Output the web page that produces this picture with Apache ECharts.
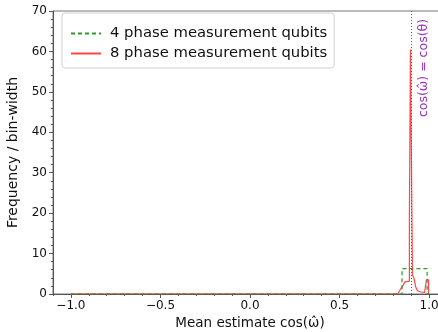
<!DOCTYPE html>
<html>
<head>
<meta charset="utf-8">
<script src="https://cdn.jsdelivr.net/npm/echarts@6/dist/echarts.min.js"></script>
<style>
  html, body { margin: 0; padding: 0; background: #fff; }
  #chart { width: 438px; height: 332px; }
</style>
</head>
<body>
<div id="chart"></div>
<script>
// histogram bin edges and heights (frequency / bin-width)
var edges4 = [-1.0, 0.849, 0.989, 1.0];
var freq4 = [0, 6.3, 0];
var edges8 = [-1.0, 0.825, 0.835, 0.845, 0.855, 0.865, 0.875, 0.89, 0.896, 0.907, 0.915, 0.925, 0.935, 0.945, 0.955, 0.965, 0.975, 0.985, 0.997, 1.0];
var freq8 = [0, 0.3, 0.8, 1.5, 2.2, 3.0, 3.2, 19, 60.5, 4.7, 4.0, 1.8, 0.8, 0.5, 0.4, 0.4, 0.5, 3.5, 0];
var cosTheta = 0.9;
var xTicks = [-1.0, -0.5, 0.0, 0.5, 1.0];
var xMinorTicks = [-1.1, -0.9, -0.8, -0.7, -0.6, -0.4, -0.3, -0.2, -0.1, 0.1, 0.2, 0.3, 0.4, 0.6, 0.7, 0.8, 0.9, 1.1];
var seriesNames = ["4 phase measurement qubits", "8 phase measurement qubits"];

function stepPoints(edges, freq) {
  var pts = [];
  for (var i = 0; i < freq.length; i++) pts.push([edges[i], freq[i]]);
  pts.push([edges[edges.length - 1], 0]);
  return pts;
}

var font = "DejaVu Sans";
var chart = echarts.init(document.getElementById("chart"));
var axisCol = "#555";

chart.setOption({
  animation: false,
  textStyle: { fontFamily: font },
  grid: {
    left: 53, top: 11, bottom: 38, width: 394,
    containLabel: false, outerBoundsMode: "none",
    show: true, borderColor: "#777", borderWidth: 1, backgroundColor: "transparent"
  },
  legend: {
    orient: "vertical",
    left: 62, top: 13,
    padding: [13, 7, 7, 8],
    itemGap: 5,
    itemWidth: 30, itemHeight: 17,
    backgroundColor: "#fff",
    borderColor: "#d0d0d0", borderWidth: 1, borderRadius: 3,
    itemStyle: { opacity: 0 },
    textStyle: { fontFamily: font, fontSize: 14.8, color: "#111", padding: [0, 0, 0, 4] },
    data: [seriesNames[0], seriesNames[1]]
  },
  xAxis: [{
    type: "value",
    min: -1.1, max: 1.1,
    splitLine: { show: false },
    axisLine: { onZero: false, lineStyle: { color: axisCol, width: 1 } },
    axisTick: { show: true, customValues: xTicks, length: 4, lineStyle: { color: axisCol } },
    axisLabel: {
      customValues: xTicks, color: "#111", fontSize: 12, margin: 6,
      formatter: function (v) { return v.toFixed(1).replace("-", "\u2212"); }
    },
    name: "Mean estimate cos(\u03C9\u0302)",
    nameLocation: "middle", nameGap: 21,
    nameTextStyle: { fontFamily: font, fontSize: 13.5, color: "#111" }
  }, {
    type: "value",
    min: -1.1, max: 1.1,
    position: "bottom",
    splitLine: { show: false },
    axisLine: { show: false, onZero: false },
    axisTick: { show: true, customValues: xMinorTicks, length: 2, lineStyle: { color: axisCol } },
    axisLabel: { show: false }
  }],
  yAxis: {
    type: "value",
    min: 0, max: 70, interval: 10,
    splitLine: { show: false },
    axisLine: { show: true, onZero: false, lineStyle: { color: axisCol, width: 1 } },
    axisTick: { show: true, length: 4, lineStyle: { color: axisCol } },
    minorTick: { show: true, splitNumber: 5, length: 2, lineStyle: { color: axisCol } },
    axisLabel: { color: "#111", fontSize: 12, margin: 6 },
    name: "Frequency / bin-width",
    nameLocation: "middle", nameGap: 28,
    nameTextStyle: { fontFamily: font, fontSize: 14, color: "#111" }
  },
  series: [{
    name: seriesNames[1],
    type: "line",
    step: "end",
    symbol: "none",
    z: 2,
    lineStyle: { color: "#ff3333", width: 1.2, opacity: 0.9 },
    itemStyle: { color: "#ff3333" },
    data: stepPoints(edges8, freq8),
    markLine: {
      silent: true, symbol: "none",
      label: { show: false },
      lineStyle: { color: "#9933bb", type: [1, 2], width: 1 },
      data: [{ xAxis: cosTheta }]
    }
  }, {
    name: seriesNames[0],
    type: "line",
    step: "end",
    symbol: "none",
    z: 3,
    lineStyle: { color: "#2a9a2a", width: 1.2, type: [4, 3] },
    itemStyle: { color: "#2a9a2a" },
    data: stepPoints(edges4, freq4)
  }]
});

// rotated annotation beside the cos(theta) line
var px = chart.convertToPixel({ xAxisIndex: 0 }, cosTheta);
chart.setOption({
  graphic: [{
    type: "text",
    x: px + 13, y: 68,
    rotation: Math.PI / 2,
    style: {
      text: "cos(\u03C9\u0302) = cos(\u03B8)",
      fill: "#9933bb",
      font: "12.5px DejaVu Sans",
      align: "center", verticalAlign: "middle"
    }
  }]
});
</script>
</body>
</html>
